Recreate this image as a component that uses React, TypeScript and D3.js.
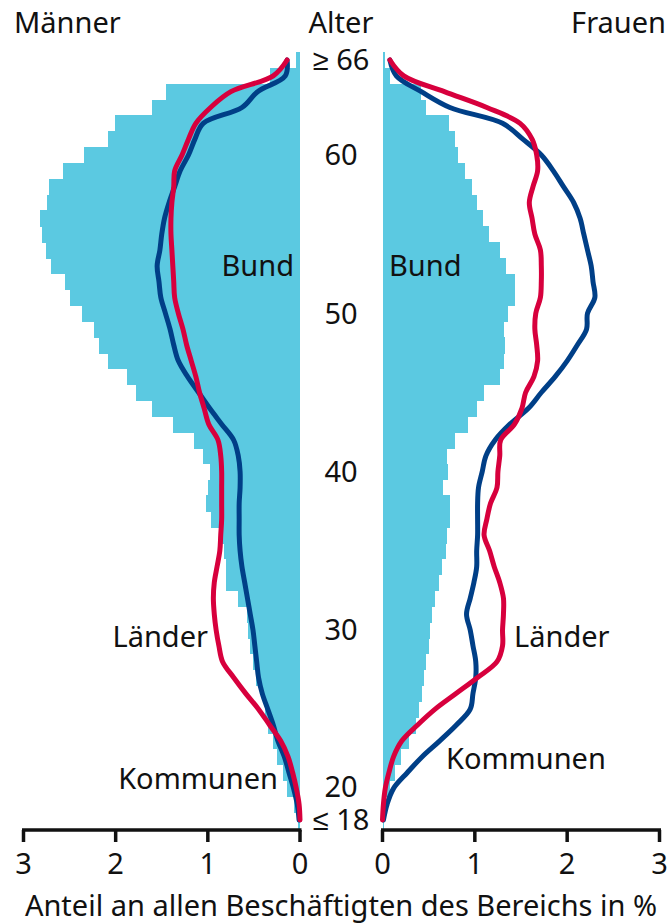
import React, { useEffect } from "react";
import * as d3 from "d3";

const ages = [18,19,20,21,22,23,24,25,26,27,28,29,30,31,32,33,34,35,36,37,38,39,40,41,42,43,44,45,46,47,48,49,50,51,52,53,54,55,56,57,58,59,60,61,62,63,64,65,66];

const menBund = [0.02,0.07,0.14,0.18,0.25,0.29,0.35,0.38,0.40,0.48,0.51,0.54,0.56,0.58,0.67,0.80,0.80,0.82,0.88,0.97,1.02,1.00,0.98,1.05,1.15,1.38,1.61,1.78,1.88,2.08,2.18,2.24,2.36,2.50,2.55,2.70,2.76,2.80,2.82,2.75,2.72,2.57,2.34,2.08,2.01,1.61,1.45,0.33,0.04];
const menLaender = [0.00,0.01,0.04,0.08,0.13,0.21,0.33,0.45,0.59,0.72,0.84,0.88,0.91,0.93,0.94,0.93,0.90,0.87,0.86,0.85,0.85,0.85,0.85,0.86,0.89,0.99,1.04,1.09,1.13,1.18,1.23,1.27,1.32,1.36,1.37,1.38,1.39,1.40,1.40,1.39,1.37,1.36,1.28,1.21,1.13,0.97,0.75,0.29,0.14];
const menKommunen = [0.01,0.03,0.07,0.12,0.17,0.24,0.29,0.35,0.41,0.45,0.47,0.49,0.51,0.54,0.57,0.60,0.63,0.65,0.66,0.66,0.66,0.65,0.65,0.67,0.72,0.85,0.98,1.10,1.22,1.32,1.37,1.41,1.46,1.51,1.53,1.55,1.52,1.50,1.47,1.42,1.36,1.30,1.21,1.14,1.05,0.63,0.46,0.16,0.14];

const womenBund = [0.02,0.04,0.08,0.13,0.20,0.29,0.36,0.40,0.43,0.45,0.47,0.50,0.51,0.54,0.57,0.61,0.64,0.69,0.70,0.73,0.73,0.66,0.71,0.70,0.79,0.93,1.02,1.10,1.27,1.32,1.33,1.32,1.36,1.43,1.43,1.34,1.27,1.15,1.09,1.02,0.97,0.89,0.82,0.78,0.72,0.47,0.42,0.08,0.03];
const womenLaender = [0.00,0.01,0.03,0.07,0.12,0.21,0.38,0.57,0.80,1.03,1.24,1.30,1.30,1.31,1.31,1.27,1.21,1.16,1.10,1.13,1.17,1.24,1.25,1.27,1.28,1.43,1.51,1.55,1.64,1.68,1.67,1.65,1.66,1.71,1.72,1.72,1.71,1.65,1.62,1.59,1.63,1.68,1.67,1.62,1.49,1.13,0.67,0.23,0.08];
const womenKommunen = [0.01,0.05,0.12,0.27,0.43,0.62,0.80,0.95,0.98,1.01,1.01,0.98,0.95,0.91,0.95,0.99,1.02,1.02,1.03,1.03,1.03,1.04,1.08,1.12,1.22,1.38,1.58,1.72,1.87,2.00,2.11,2.21,2.22,2.30,2.28,2.26,2.22,2.18,2.14,2.07,1.96,1.85,1.72,1.52,1.30,0.73,0.42,0.15,0.08];

const xTicks = [0, 1, 2, 3];
const ageLabels = [
  { age: 66, text: "≥ 66" },
  { age: 60, text: "60" },
  { age: 50, text: "50" },
  { age: 40, text: "40" },
  { age: 30, text: "30" },
  { age: 20, text: "20" },
  { age: 18, text: "≤ 18" },
];

const BUND = "#5BC9E1";
const KOMM = "#003F87";
const LAEND = "#D7003D";
const FONT = "'Noto Sans', sans-serif";

export default function App() {
  useEffect(() => {
    document.body.style.margin = "0";
  }, []);

  const W = 670, H = 924;
  const y = d3.scaleLinear().domain([18, 66]).range([820, 60]);
  const xL = d3.scaleLinear().domain([0, 3]).range([300, 23.5]);
  const xR = d3.scaleLinear().domain([0, 3]).range([382.5, 659.5]);
  const bh = Math.abs(y(19) - y(18));

  const lineL = (vals: number[]) =>
    d3.line<number>().x((d) => xL(d)).y((_, i) => y(ages[i])).curve(d3.curveCatmullRom.alpha(0.5))(vals) || "";
  const lineR = (vals: number[]) =>
    d3.line<number>().x((d) => xR(d)).y((_, i) => y(ages[i])).curve(d3.curveCatmullRom.alpha(0.5))(vals) || "";

  const axisY = 830;
  const fs = 29;

  return (
    <svg width={W} height={H} style={{ position: "absolute", left: 0, top: 0, display: "block" }} fontFamily={FONT}>
      <rect x={0} y={0} width={W} height={H} fill="#fff" />
      {/* Bund bars */}
      <g shapeRendering="crispEdges">
        {ages.map((a, i) => (
          <rect key={"lb" + a} x={xL(menBund[i])} y={y(a) - bh / 2} width={xL(0) - xL(menBund[i])} height={bh + 0.6} fill={BUND} />
        ))}
        {ages.map((a, i) => (
          <rect key={"rb" + a} x={xR(0)} y={y(a) - bh / 2} width={xR(womenBund[i]) - xR(0)} height={bh + 0.6} fill={BUND} />
        ))}
      </g>
      {/* lines */}
      <path d={lineL(menKommunen)} fill="none" stroke={KOMM} strokeWidth={5} strokeLinejoin="round" strokeLinecap="round" />
      <path d={lineL(menLaender)} fill="none" stroke={LAEND} strokeWidth={5} strokeLinejoin="round" strokeLinecap="round" />
      <path d={lineR(womenKommunen)} fill="none" stroke={KOMM} strokeWidth={5} strokeLinejoin="round" strokeLinecap="round" />
      <path d={lineR(womenLaender)} fill="none" stroke={LAEND} strokeWidth={5} strokeLinejoin="round" strokeLinecap="round" />

      {/* header */}
      <text x={14} y={33} fontSize={fs} fill="#111">Männer</text>
      <text x={341} y={33} fontSize={fs} fill="#111" textAnchor="middle">Alter</text>
      <text x={666} y={33} fontSize={fs} fill="#111" textAnchor="end">Frauen</text>

      {/* age labels */}
      {ageLabels.map((l) => (
        <text key={l.text} x={341} y={y(l.age) + (l.age === 20 ? -2 : 0)} dy="0.36em" fontSize={fs} fill="#111" textAnchor="middle">{l.text}</text>
      ))}

      {/* series labels */}
      <text x={294} y={y(53)} dy="0.36em" fontSize={fs} fill="#111" textAnchor="end">Bund</text>
      <text x={389} y={y(53)} dy="0.36em" fontSize={fs} fill="#111">Bund</text>
      <text x={208} y={y(29.6)} dy="0.36em" fontSize={fs} fill="#111" textAnchor="end">Länder</text>
      <text x={514} y={y(29.6)} dy="0.36em" fontSize={fs} fill="#111">Länder</text>
      <text x={278} y={y(20.6)} dy="0.36em" fontSize={fs} fill="#111" textAnchor="end">Kommunen</text>
      <text x={446} y={y(21.9)} dy="0.36em" fontSize={fs} fill="#111">Kommunen</text>

      {/* axes */}
      <line x1={xL(3) - 1.5} x2={xL(0) + 1.5} y1={axisY} y2={axisY} stroke="#111" strokeWidth={3.5} />
      <line x1={xR(0) - 1.5} x2={xR(3) + 1.5} y1={axisY} y2={axisY} stroke="#111" strokeWidth={3.5} />
      {xTicks.map((t) => (
        <g key={"tl" + t}>
          <line x1={xL(t)} x2={xL(t)} y1={axisY} y2={axisY + 12} stroke="#111" strokeWidth={3.5} />
          <text x={xL(t)} y={874} fontSize={fs} fill="#111" textAnchor="middle">{t}</text>
          <line x1={xR(t)} x2={xR(t)} y1={axisY} y2={axisY + 12} stroke="#111" strokeWidth={3.5} />
          <text x={xR(t)} y={874} fontSize={fs} fill="#111" textAnchor="middle">{t}</text>
        </g>
      ))}
      <text x={341} y={916} fontSize={fs} fill="#111" textAnchor="middle">Anteil an allen Beschäftigten des Bereichs in %</text>
    </svg>
  );
}
